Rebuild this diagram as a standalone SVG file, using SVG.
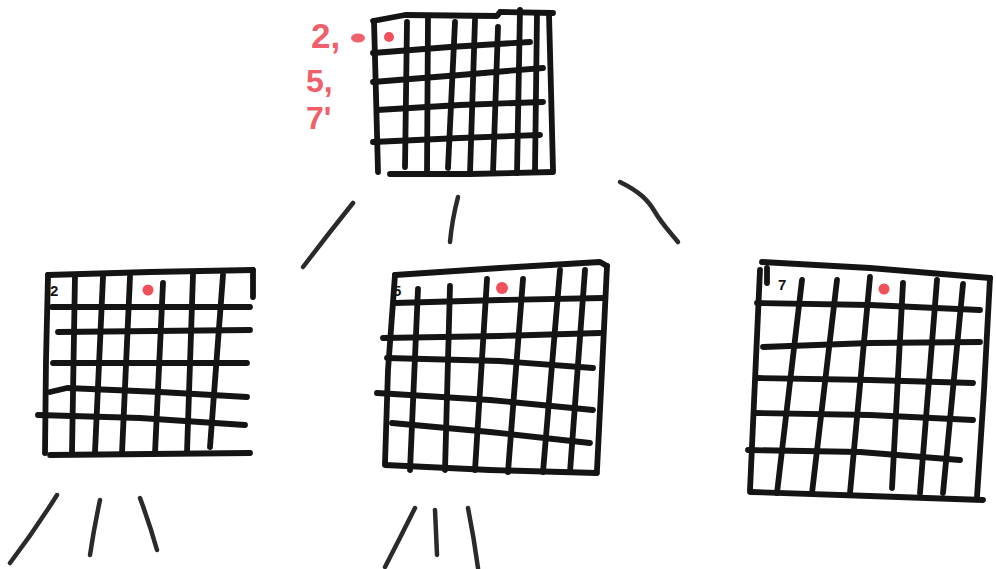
<svg xmlns="http://www.w3.org/2000/svg" width="996" height="569" viewBox="0 0 996 569">
<style>
.g{fill:none;stroke:#141414;stroke-width:5.8;stroke-linecap:round;stroke-linejoin:round}
.c{fill:none;stroke:#2a2a2a;stroke-width:4.5;stroke-linecap:round;stroke-linejoin:round}
.dot{fill:#f0505a}
.red{fill:#f0606a;font-family:"Liberation Sans",Arial,sans-serif;font-weight:bold}
.lab{fill:#141414;font-family:"Liberation Sans",Arial,sans-serif;font-weight:bold;font-size:15px}
</style>
<rect width="996" height="569" fill="#ffffff"/>
<g id="root">
<path class="g" d="M373,21 L405,15 L497,16 L500,12 L553,13"/>
<path class="g" d="M374,21 L376,95 L378,172"/>
<path class="g" d="M390,174 L470,174 L553,172"/>
<path class="g" d="M549,14 L551,90 L553,170"/>
<path class="g" d="M407,22 L405,167 M428,17 L427,173 M455,22 L448,168 M475,20 L470,173 M498,27 L493,173 M520,10 L517,173 M537,13 L535,170"/>
<path class="g" d="M373,53 L450,47 L530,42 M373,82 L460,75 L543,68 M377,110 L460,105 L543,102 M373,142 L460,138 L540,135"/>
<circle class="dot" cx="389" cy="37" r="5"/>
<text class="red" x="311" y="48" font-size="35">2,</text>
<ellipse cx="358" cy="38" rx="7" ry="4.5" fill="#f0606a"/>
<text class="red" x="306" y="92" font-size="32">5,</text>
<text class="red" x="306" y="129" font-size="32">7'</text>
</g>
<g id="left">
<path class="g" d="M48,275 L150,272 L253,270"/>
<path class="g" d="M48,275 L46,360 L45,453"/>
<path class="g" d="M50,455 L150,454 L250,453"/>
<path class="g" d="M253,270 L253,297"/>
<path class="g" d="M75,275 L72,452 M103,277 L95,452 M130,277 L122,453 M163,283 L155,453 M193,275 L187,452 M223,275 L210,447"/>
<path class="g" d="M52,307 L250,307 M58,332 L250,330 M53,363 L247,363 M50,392 L67,388 L160,392 L247,397 M38,415 L140,418 L245,425"/>
<circle class="dot" cx="148" cy="290" r="5.5"/>
<text class="lab" x="50" y="296">2</text>
</g>
<g id="middle">
<path class="g" d="M395,275 L500,268 L600,262 L607,266"/>
<path class="g" d="M395,275 L388,370 L385,463"/>
<path class="g" d="M385,465 L490,470 L597,473"/>
<path class="g" d="M607,266 L602,370 L597,470"/>
<path class="g" d="M418,289 L410,470 M450,286 L445,470 M487,279 L475,470 M523,279 L508,472 M560,270 L543,472 M585,270 L570,472"/>
<path class="g" d="M395,303 L500,300 L603,298 M383,338 L500,336 L600,333 M387,358 L500,361 L593,368 M377,393 L490,400 L593,410 M392,423 L490,432 L590,443"/>
<circle class="dot" cx="502" cy="288" r="6"/>
<text class="lab" x="393" y="296">5</text>
</g>
<g id="right">
<path class="g" d="M762,262 L870,268 L990,278"/>
<path class="g" d="M760,270 L755,380 L750,490"/>
<path class="g" d="M750,492 L870,496 L983,500"/>
<path class="g" d="M990,278 L984,390 L977,497"/>
<path class="g" d="M767,268 L767,283"/>
<path class="g" d="M802,280 L777,493 M837,280 L812,493 M870,277 L850,493 M903,283 L892,488 M937,280 L920,493 M963,284 L943,493"/>
<path class="g" d="M757,303 L870,305 L980,310 M763,347 L870,343 L980,342 M758,378 L870,380 L973,383 M755,413 L870,415 L973,420 M748,450 L860,452 L960,460"/>
<circle class="dot" cx="884" cy="289" r="5.5"/>
<text class="lab" x="778" y="290">7</text>
</g>
<g id="connectors">
<path class="c" d="M353,203 L330,232 L303,267"/>
<path class="c" d="M458,197 Q452,220 450,242"/>
<path class="c" d="M620,182 C640,192 648,200 655,212 C662,224 670,232 678,242"/>
<path class="c" d="M57,495 Q35,530 10,563"/>
<path class="c" d="M100,500 Q94,528 90,555"/>
<path class="c" d="M140,498 Q150,525 157,550"/>
<path class="c" d="M415,508 Q400,538 385,567"/>
<path class="c" d="M435,510 L436,532 L437,555"/>
<path class="c" d="M468,508 Q474,538 478,568"/>
</g>
</svg>
